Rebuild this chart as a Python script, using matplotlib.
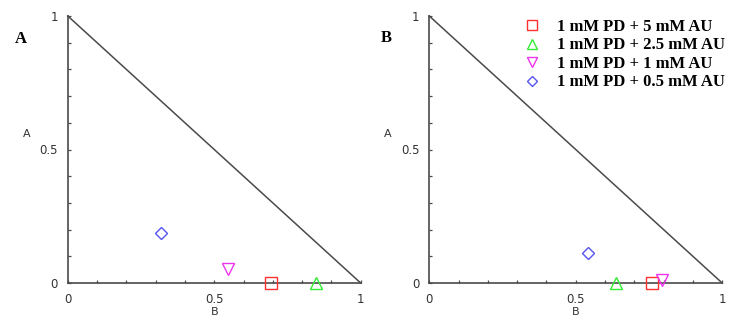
import matplotlib.pyplot as plt
import numpy as np

labels = ["1 mM PD + 5 mM AU", "1 mM PD + 2.5 mM AU",
          "1 mM PD + 1 mM AU", "1 mM PD + 0.5 mM AU"]
markers = ["s", "^", "v", "D"]
colors = ["#ff3030", "#33ee33", "#ee33ee", "#5555ee"]

# panel A: (B, A) fractions
b_panel_a = [0.694, 0.846, 0.546, 0.318]
a_panel_a = [0.0, 0.0, 0.051, 0.189]
# panel B
b_panel_b = [0.759, 0.636, 0.795, 0.542]
a_panel_b = [0.0, 0.0, 0.013, 0.113]

line_color = "#4a4a4a"


def style_axes(ax):
    for side in ["top", "right"]:
        ax.spines[side].set_visible(False)
    for side in ["left", "bottom"]:
        ax.spines[side].set_color(line_color)
        ax.spines[side].set_linewidth(1.2)
    ticks = np.round(np.arange(0, 1.01, 0.1), 1)
    ticklabels = ["0" if t == 0 else "0.5" if t == 0.5 else "1" if t == 1 else "" for t in ticks]
    ax.set_xticks(ticks)
    ax.set_xticklabels(ticklabels)
    ax.set_yticks(ticks)
    ax.set_yticklabels(ticklabels)
    ax.tick_params(direction="in", length=2.5, width=0.9, color=line_color,
                   labelsize=8.5, labelcolor="#333333", pad=7)
    ax.set_xlim(0, 1)
    ax.set_ylim(0, 1)
    ax.plot([0, 1], [1, 0], color=line_color, linewidth=1.1, clip_on=False)
    ax.set_xlabel("B", fontsize=8, color="#333333", labelpad=1)
    ax.set_ylabel("A", fontsize=8, color="#333333", rotation=0)
    ax.yaxis.set_label_coords(-0.14, 0.538)


fig = plt.figure(figsize=(7.4, 3.25), dpi=100)
ax1 = fig.add_axes([0.0915, 0.129, 0.396, 0.822])
ax2 = fig.add_axes([0.580, 0.129, 0.396, 0.822])

for ax, bs, as_ in [(ax1, b_panel_a, a_panel_a), (ax2, b_panel_b, a_panel_b)]:
    style_axes(ax)
    for b, a, m, c, lab in zip(bs, as_, markers, colors, labels):
        size = 6 if m == "D" else 8
        ax.plot([b], [a], linestyle="none", marker=m, markersize=size,
                markerfacecolor="none", markeredgecolor=c, markeredgewidth=1.0,
                clip_on=False, label=lab, zorder=3)

leg = ax2.legend(loc="upper left", bbox_to_anchor=(0.27, 1.045), frameon=False,
                 handlelength=1.0, handletextpad=1.05, labelspacing=0.15,
                 markerscale=0.85,
                 prop={"family": "Liberation Serif", "weight": "bold", "size": 12})

fig.text(0.02, 0.868, "A", fontsize=12, fontweight="bold", family="Liberation Serif")
fig.text(0.515, 0.871, "B", fontsize=12, fontweight="bold", family="Liberation Serif")

fig.savefig("out.png", dpi=100)
